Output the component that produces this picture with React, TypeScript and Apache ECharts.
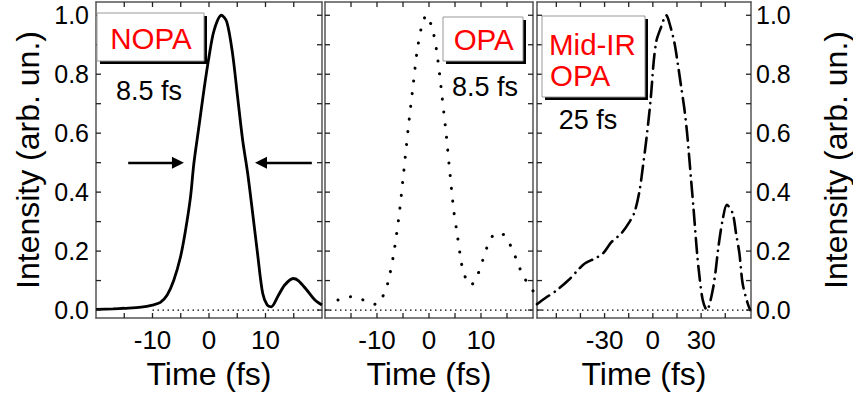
import React, { useEffect, useRef } from 'react';
import * as echarts from 'echarts';

const FONT = '"Liberation Sans", Arial, Helvetica, sans-serif';

// ---- Data ----
const nopaTime = [-20, -17, -15, -12, -10, -8.6, -7.4, -6.25, -5.05, -4.16, -3.27, -2.68, -1.8, -0.9, 0, 0.9, 2.2, 3.16, 4.17, 5.06, 5.96, 6.85, 7.75, 8.6, 9.5, 10.3, 11.0, 12.2, 13.4, 14.9, 15.8, 17.3, 18.75, 20];
const nopaIntensity = [0.002, 0.004, 0.006, 0.01, 0.017, 0.026, 0.051, 0.1, 0.18, 0.27, 0.384, 0.497, 0.62, 0.746, 0.859, 0.949, 1.0, 0.977, 0.87, 0.723, 0.576, 0.463, 0.325, 0.19, 0.057, 0.017, 0.011, 0.047, 0.085, 0.107, 0.1, 0.068, 0.034, 0.017];

const opaTime = [-17.5, -15, -12.6, -10.1, -8.6, -7.8, -6.8, -5.8, -5, -4, -3, -2.3, -1.4, -0.5, 0.8, 1.65, 2.5, 3.3, 4.0, 4.75, 5.45, 6.15, 6.7, 8.0, 9.5, 11.2, 12.4, 13.5, 14.5, 15.9, 16.9, 17.9, 19.3, 20];
const opaIntensity = [0.034, 0.045, 0.034, 0.019, 0.057, 0.1, 0.19, 0.315, 0.444, 0.616, 0.77, 0.876, 0.963, 1.0, 0.943, 0.855, 0.726, 0.597, 0.469, 0.339, 0.254, 0.169, 0.124, 0.084, 0.126, 0.215, 0.255, 0.262, 0.253, 0.211, 0.167, 0.124, 0.081, 0.065];

const midTime = [-72, -67, -60, -52.7, -46.5, -42.3, -36, -31, -25.8, -19.6, -14.4, -11.3, -8.2, -6.2, -4.1, -1.4, 0.6, 2.3, 4.8, 8.3, 11, 13.5, 15.5, 17.6, 19.7, 21.3, 23.8, 25.2, 27.5, 29, 31, 33.5, 37.6, 40.9, 43.5, 46, 49.6, 51.7, 53.8, 55.8, 58.9, 60.5];
const midIntensity = [0.02, 0.04, 0.066, 0.1, 0.136, 0.158, 0.175, 0.192, 0.23, 0.26, 0.3, 0.333, 0.407, 0.486, 0.576, 0.712, 0.847, 0.915, 0.955, 1.0, 0.96, 0.904, 0.836, 0.757, 0.678, 0.599, 0.44, 0.35, 0.192, 0.113, 0.034, 0.0, 0.079, 0.22, 0.31, 0.357, 0.328, 0.26, 0.192, 0.09, 0.023, 0.0];

// FWHM arrows (NOPA panel), at half maximum
const arrowLevel = 0.5;
const leftArrow = [-14.3, -5.5];
const rightArrow = [18.2, 9.2];

// dotted zero lines [start, end] per panel
const zeroLines = [[-10, 20], [-20, 20], [-72, 61]];

// axis ranges & ticks
const xRanges = [[-20, 20], [-20, 20], [-72, 61]];
const xTicks = [
  [-15, -10, -5, 0, 5, 10, 15],
  [-15, -10, -5, 0, 5, 10, 15],
  [-60, -45, -30, -15, 0, 15, 30, 45],
];
const xLabels = [[-10, 0, 10], [-10, 0, 10], [-30, 0, 30]];
const yRange = [-0.027, 1.045];
const yTicks = [0, 0.1, 0.2, 0.3, 0.4, 0.5, 0.6, 0.7, 0.8, 0.9, 1.0];
const yLabels = [0, 0.2, 0.4, 0.6, 0.8, 1.0];

const panelNames = ['NOPA', 'OPA', 'Mid-IR OPA'];
const durations = ['8.5 fs', '8.5 fs', '25 fs'];
const xTitle = 'Time (fs)';
const yTitle = 'Intensity (arb. un.)';

const zip = (t: number[], v: number[]) => t.map((x, i) => [x, v[i]]);

const panels = [
  { left: 96, width: 226 },
  { left: 325, width: 208 },
  { left: 537, width: 215 },
];

const TICK_LEN = 5;

function buildOption() {
  const grid = panels.map((p) => ({
    left: p.left,
    top: 2,
    width: p.width,
    height: 316,
    show: false,
  }));

  const frameLine = () => ({ show: true, onZero: false, lineStyle: { color: '#555', width: 1.5 } });
  const xAxis: any[] = [];
  const yAxis: any[] = [];
  panels.forEach((_, i) => {
    xAxis.push({
      type: 'value',
      gridIndex: i,
      min: xRanges[i][0],
      max: xRanges[i][1],
      position: 'bottom',
      axisLine: frameLine(),
      splitLine: { show: false },
      axisTick: { show: false },
      axisLabel: { customValues: xLabels[i].slice(), fontSize: 26, fontFamily: FONT, color: '#000', margin: 9 },
      name: xTitle,
      nameLocation: 'middle',
      nameGap: 33,
      nameTextStyle: { fontSize: 32, fontFamily: FONT, color: '#000' },
    });
    xAxis.push({
      type: 'value',
      gridIndex: i,
      min: xRanges[i][0],
      max: xRanges[i][1],
      position: 'top',
      axisLine: frameLine(),
      splitLine: { show: false },
      axisTick: { show: false },
      axisLabel: { show: false },
    });

    const labelStyle = () => ({
      customValues: yLabels.slice(),
      formatter: (v: number) => v.toFixed(1),
      fontSize: 25,
      fontFamily: FONT,
      color: '#000',
    });
    const left: any = {
      type: 'value',
      gridIndex: i,
      min: yRange[0],
      max: yRange[1],
      position: 'left',
      axisLine: frameLine(),
      splitLine: { show: false },
      axisTick: { show: false },
      axisLabel: i === 0 ? { ...labelStyle(), margin: 7 } : { show: false },
    };
    if (i === 0) {
      Object.assign(left, { name: yTitle, nameLocation: 'middle', nameGap: 52, nameRotate: 90, nameTextStyle: { fontSize: 32, fontFamily: FONT, color: '#000' } });
    }
    const right: any = {
      type: 'value',
      gridIndex: i,
      min: yRange[0],
      max: yRange[1],
      position: 'right',
      axisLine: frameLine(),
      splitLine: { show: false },
      axisTick: { show: false },
      axisLabel: i === 2 ? { ...labelStyle(), margin: 5 } : { show: false },
    };
    if (i === 2) {
      Object.assign(right, { name: yTitle, nameLocation: 'middle', nameGap: 69, nameRotate: 90, nameTextStyle: { fontSize: 32, fontFamily: FONT, color: '#000' } });
    }
    yAxis.push(left, right);
  });

  const series: any[] = [];

  // inward tick marks on all four frame sides, placed through the axis scales
  panels.forEach((_, i) => {
    const tickData = [
      ...xTicks[i].map((v) => [v, yRange[0], 0]),
      ...yTicks.map((v) => [xRanges[i][0], v, 1]),
    ];
    series.push({
      type: 'custom',
      xAxisIndex: 2 * i,
      yAxisIndex: 2 * i,
      silent: true,
      clip: false,
      z: 6,
      data: tickData,
      renderItem: (params: any, api: any) => {
        const cs = params.coordSys;
        const kind = api.value(2);
        const style = { stroke: '#222', lineWidth: 1.3 };
        if (kind === 0) {
          const px = api.coord([api.value(0), yRange[0]])[0];
          return {
            type: 'group',
            children: [
              { type: 'line', shape: { x1: px, y1: cs.y + cs.height, x2: px, y2: cs.y + cs.height - TICK_LEN }, style },
              { type: 'line', shape: { x1: px, y1: cs.y, x2: px, y2: cs.y + TICK_LEN }, style },
            ],
          };
        }
        const py = api.coord([xRanges[i][0], api.value(1)])[1];
        return {
          type: 'group',
          children: [
            { type: 'line', shape: { x1: cs.x, y1: py, x2: cs.x + TICK_LEN, y2: py }, style },
            { type: 'line', shape: { x1: cs.x + cs.width, y1: py, x2: cs.x + cs.width - TICK_LEN, y2: py }, style },
          ],
        };
      },
    });
  });

  zeroLines.forEach((z, i) => {
    series.push({
      type: 'line',
      xAxisIndex: 2 * i,
      yAxisIndex: 2 * i,
      data: [[z[0], 0], [z[1], 0]],
      showSymbol: false,
      silent: true,
      lineStyle: { color: '#000', width: 1.3, type: [1.5, 3.5] },
      z: 1,
    });
  });
  series.push({
    type: 'line',
    name: panelNames[0],
    xAxisIndex: 0,
    yAxisIndex: 0,
    data: zip(nopaTime, nopaIntensity),
    smooth: 0.3,
    showSymbol: false,
    lineStyle: { color: '#000', width: 2.8 },
    z: 3,
    markLine: {
      silent: true,
      animation: false,
      symbol: ['none', 'triangle'],
      symbolSize: 12,
      label: { show: false },
      lineStyle: { color: '#000', width: 2.4, type: 'solid' },
      itemStyle: { color: '#000' },
      emphasis: { disabled: true },
      data: [
        [{ coord: [leftArrow[0], arrowLevel] }, { coord: [leftArrow[1], arrowLevel] }],
        [{ coord: [rightArrow[0], arrowLevel] }, { coord: [rightArrow[1], arrowLevel] }],
      ],
    },
  });
  series.push({
    type: 'line',
    name: panelNames[1],
    xAxisIndex: 2,
    yAxisIndex: 2,
    data: zip(opaTime, opaIntensity),
    smooth: 0.3,
    showSymbol: false,
    lineStyle: { color: '#000', width: 3, type: [0.1, 12.7], cap: 'round' },
    z: 3,
  });
  series.push({
    type: 'line',
    name: panelNames[2],
    xAxisIndex: 4,
    yAxisIndex: 4,
    data: zip(midTime, midIntensity),
    smooth: 0.3,
    showSymbol: false,
    lineStyle: { color: '#000', width: 2.6, type: [15, 6.5, 0.1, 6.5], cap: 'round' },
    z: 3,
  });

  const box = (x: number, y: number, w: number, h: number) => [
    { type: 'rect', shape: { x: x + 3, y: y + 3, width: w, height: h }, style: { fill: '#000' }, z: 10 },
    { type: 'rect', shape: { x, y, width: w, height: h }, style: { fill: '#fff', stroke: '#999', lineWidth: 1 }, z: 11 },
  ];
  const txt = (text: string, x: number, y: number, fill: string, align = 'center') => ({
    type: 'text',
    x,
    y,
    z: 12,
    style: { text, fill, fontSize: 29.5, fontFamily: FONT, align, verticalAlign: 'middle' },
  });
  const txt2 = (text: string, x: number, y: number) => ({
    type: 'text',
    x,
    y,
    z: 12,
    style: { text, fill: '#000', fontSize: 27, fontFamily: FONT, align: 'center', verticalAlign: 'middle' },
  });
  const midParts = panelNames[2].split(' ');

  const graphic = [
    ...box(97, 13, 107, 48),
    txt(panelNames[0], 151, 38.5, '#ff0000'),
    txt2(durations[0], 149, 91),
    ...box(443, 17, 80, 44),
    txt(panelNames[1], 483.7, 39.5, '#ff0000'),
    txt2(durations[1], 485, 87),
    ...box(542, 16, 103, 81),
    txt(midParts[0], 549, 44, '#ff0000', 'left'),
    txt(midParts[1], 550, 75, '#ff0000', 'left'),
    txt2(durations[2], 588, 120),
  ];

  return {
    animation: false,
    backgroundColor: '#fff',
    grid,
    xAxis,
    yAxis,
    series,
    graphic,
  };
}

export default function App() {
  const ref = useRef<HTMLDivElement>(null);
  useEffect(() => {
    if (!ref.current) return;
    const chart = echarts.init(ref.current, null, { renderer: 'svg' });
    chart.setOption(buildOption() as any);
    return () => chart.dispose();
  }, []);
  return (
    <div
      ref={ref}
      style={{ position: 'fixed', left: 0, top: 0, width: 853, height: 396, background: '#fff' }}
    />
  );
}
